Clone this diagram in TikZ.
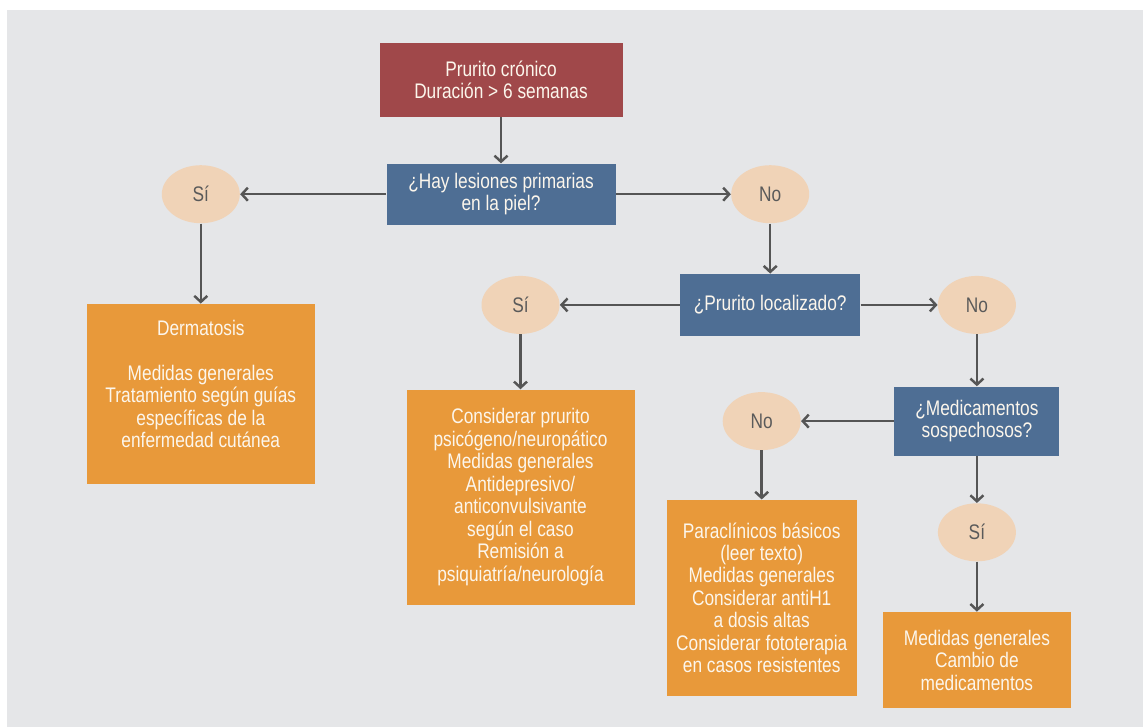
\documentclass[tikz,border=0pt]{standalone}
\usepackage{fontspec}
\newfontfamily\flowfont[FakeStretch=0.82]{Liberation Sans}
\usepackage{xcolor}
\definecolor{panelbg}{RGB}{229,230,232}
\definecolor{startred}{RGB}{160,72,74}
\definecolor{askblue}{RGB}{78,110,148}
\definecolor{actorange}{RGB}{232,153,58}
\definecolor{answerfill}{RGB}{240,211,183}
\definecolor{answertext}{RGB}{90,90,90}
\definecolor{linkgray}{RGB}{85,85,85}
\definecolor{boxtext}{RGB}{252,246,236}
\usepackage{tikz}
\usetikzlibrary{arrows.meta, positioning, shapes.geometric}

\begin{document}
\begin{tikzpicture}[
  flowbox/.style={
    rectangle, inner sep=0pt, align=center,
    font=\flowfont\fontsize{12}{12.8}\selectfont, text=boxtext,
  },
  startbox/.style={flowbox, fill=startred, minimum width=4.86cm, minimum height=1.48cm},
  askbox/.style={flowbox, fill=askblue},
  actbox/.style={flowbox, fill=actorange},
  answer/.style={
    ellipse, inner sep=0pt, fill=answerfill,
    minimum width=1.56cm, minimum height=1.16cm,
    font=\flowfont\fontsize{12}{12.8}\selectfont, text=answertext,
  },
  link/.style={draw=linkgray, line width=1.4pt, -{Straight Barb[length=1.2mm,width=2.6mm]}},
]
\useasboundingbox (0,0) rectangle (22.86,-14.54);
\fill[panelbg] (0.14,-0.2) rectangle (22.86,-14.54);

\node[startbox] (start) at (10.02,-1.6) {Prurito crónico\\Duración > 6 semanas};
\node[askbox, minimum width=4.58cm, minimum height=1.22cm] (lesion) [below=0.92cm of start]
  {¿Hay lesiones primarias\\en la piel?};
\node[answer] (lesionyes) [left=2.92cm of lesion]  {Sí};
\node[answer] (lesionno)  [right=2.3cm of lesion]  {No};
\node[actbox, minimum width=4.56cm, minimum height=3.6cm] (derma) [below=1.6cm of lesionyes]
  {Dermatosis\\[12.8pt]Medidas generales\\Tratamiento según guías\\específicas de la\\enfermedad cutánea\\[-1.2pt]};

\node[askbox, minimum width=3.6cm, minimum height=1.24cm] (local) [below=1.0cm of lesionno]
  {¿Prurito localizado?};
\node[answer] (localyes) [left=2.4cm of local]   {Sí};
\node[answer] (localno)  [right=1.54cm of local] {No};
\node[actbox, minimum width=4.56cm, minimum height=4.3cm] (psico) [below=1.1cm of localyes]
  {Considerar prurito\\psicógeno/neuropático\\Medidas generales\\Antidepresivo/\\anticonvulsivante\\según el caso\\Remisión a\\psiquiatría/neurología};

\node[askbox, minimum width=3.3cm, minimum height=1.38cm] (drugs) [below=1.04cm of localno]
  {¿Medicamentos\\sospechosos?};
\node[answer] (drugsno)  [left=1.86cm of drugs]  {No};
\node[answer] (drugsyes) [below=0.94cm of drugs] {Sí};
\node[actbox, minimum width=3.8cm, minimum height=3.92cm] (paracl) [below=0.98cm of drugsno]
  {Paraclínicos básicos\\(leer texto)\\Medidas generales\\Considerar antiH1\\a dosis altas\\Considerar fototerapia\\en casos resistentes};
\node[actbox, minimum width=3.76cm, minimum height=1.92cm] (change) [below=1.0cm of drugsyes]
  {Medidas generales\\Cambio de\\medicamentos};

\draw[link] (start) -- (lesion);
\draw[link] (lesion) -- (lesionyes);
\draw[link] (lesion) -- (lesionno);
\draw[link] (lesionyes) -- (derma);
\draw[link] (lesionno) -- (local);
\draw[link] (local) -- (localyes);
\draw[link] (local) -- (localno);
\draw[link] (localyes) -- (psico);
\draw[link] (localno) -- (drugs);
\draw[link] (drugs) -- (drugsno);
\draw[link] (drugs) -- (drugsyes);
\draw[link] (drugsno) -- (paracl);
\draw[link] (drugsyes) -- (change);
\end{tikzpicture}
\end{document}
